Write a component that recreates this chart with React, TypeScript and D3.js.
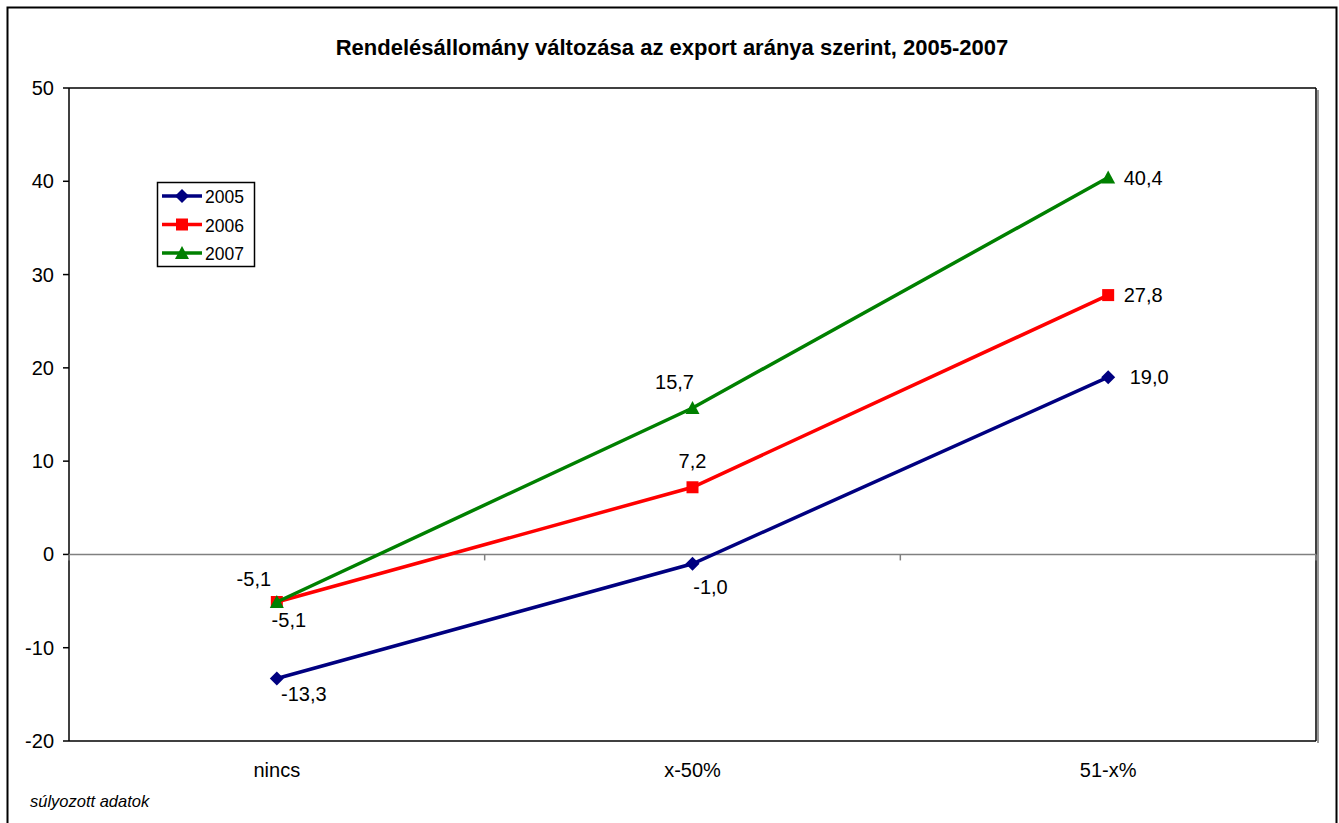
import React from "react";
import * as d3 from "d3";

const categories = ["nincs", "x-50%", "51-x%"];
const s2005 = [-13.3, -1.0, 19.0];
const s2006 = [-5.1, 7.2, 27.8];
const s2007 = [-5.1, 15.7, 40.4];
const yTicks = [-20, -10, 0, 10, 20, 30, 40, 50];
const seriesNames = ["2005", "2006", "2007"];

const W = 1339, H = 823;
const M = { left: 69, right: 1316, top: 88, bottom: 741 };

const colors = ["#000080", "#FF0000", "#008000"];
// label offsets (dx, dy, anchor) per series/point
const labelOffsets: [number, number, string][][] = [
  [[27, 16, "middle"], [18, 23, "middle"], [41, 0, "middle"]],
  [[12, 18, "middle"], [0, -26, "middle"], [35, 0, "middle"]],
  [[-23, -23, "middle"], [-18, -26, "middle"], [35, 0, "middle"]],
];

function fmt(v: number) {
  return v.toFixed(1).replace(".", ",");
}

function Marker({ kind, x, y, color }: { kind: number; x: number; y: number; color: string }) {
  if (kind === 0) {
    const r = 7;
    return <path d={`M${x},${y - r}L${x + r},${y}L${x},${y + r}L${x - r},${y}Z`} fill={color} />;
  }
  if (kind === 1) {
    return <rect x={x - 6} y={y - 6} width={12} height={12} fill={color} />;
  }
  return <path d={`M${x},${y - 7}L${x + 7},${y + 6}L${x - 7},${y + 6}Z`} fill={color} />;
}

export default function App() {
  const x = d3.scaleBand<string>().domain(categories).range([M.left, M.right]);
  const y = d3.scaleLinear().domain([-20, 50]).range([M.bottom, M.top]);
  const all = [s2005, s2006, s2007];
  const line = d3
    .line<number>()
    .x((_, i) => (x(categories[i]) as number) + x.bandwidth() / 2)
    .y((d) => y(d));
  const font = "Arial, 'Liberation Sans', sans-serif";
  const boundaries = [0, 1, 2, 3].map((i) => M.left + i * x.bandwidth());

  return (
    <svg width={W} height={H} style={{ position: "absolute", left: 0, top: 0, display: "block" }} fontFamily={font}>
      <rect x={0} y={0} width={W} height={H} fill="#fff" />
      <rect x={7.5} y={7.5} width={1329} height={830} fill="none" stroke="#000" strokeWidth={2} />
      <text x={672} y={55} textAnchor="middle" fontSize={22} fontWeight="bold">
        Rendelésállomány változása az export aránya szerint, 2005-2007
      </text>
      {/* plot area shadow + border */}
      <line x1={M.right + 2} y1={M.top + 2} x2={M.right + 2} y2={M.bottom + 2} stroke="#999" strokeWidth={2} />
      <line x1={M.left} y1={M.top} x2={M.right} y2={M.top} stroke="#000" strokeWidth={1.5} />
      <line x1={M.right} y1={M.top} x2={M.right} y2={M.bottom} stroke="#000" strokeWidth={1.5} />
      <line x1={M.left} y1={M.bottom} x2={M.right} y2={M.bottom} stroke="#000" strokeWidth={1.5} />
      {/* y axis */}
      <line x1={M.left} y1={M.top} x2={M.left} y2={M.bottom} stroke="#000" strokeWidth={1.5} />
      {yTicks.map((t) => (
        <g key={t}>
          <line x1={M.left - 6} x2={M.left} y1={y(t)} y2={y(t)} stroke="#000" strokeWidth={1.5} />
          <text x={54} y={y(t)} textAnchor="end" dominantBaseline="central" fontSize={20}>
            {t}
          </text>
        </g>
      ))}
      {/* category axis at zero */}
      <line x1={M.left} x2={M.right} y1={y(0)} y2={y(0)} stroke="#808080" strokeWidth={1.5} />
      {boundaries.map((b, i) => (
        <line key={i} x1={b} x2={b} y1={y(0)} y2={y(0) + 6} stroke="#808080" strokeWidth={1.5} />
      ))}
      {categories.map((c) => (
        <text key={c} x={(x(c) as number) + x.bandwidth() / 2} y={777} textAnchor="middle" fontSize={20}>
          {c}
        </text>
      ))}
      {/* series */}
      {all.map((s, si) => (
        <g key={si}>
          <path d={line(s) || ""} fill="none" stroke={colors[si]} strokeWidth={3.5} />
          {s.map((v, i) => (
            <Marker key={i} kind={si} x={(x(categories[i]) as number) + x.bandwidth() / 2} y={y(v)} color={colors[si]} />
          ))}
        </g>
      ))}
      {all.map((s, si) =>
        s.map((v, i) => {
          const [dx, dy, anchor] = labelOffsets[si][i];
          return (
            <text
              key={`${si}-${i}`}
              x={(x(categories[i]) as number) + x.bandwidth() / 2 + dx}
              y={y(v) + dy}
              textAnchor={anchor as any}
              dominantBaseline="central"
              fontSize={20}
            >
              {fmt(v)}
            </text>
          );
        })
      )}
      {/* legend */}
      <rect x={157.5} y={182.5} width={97} height={84} fill="#fff" stroke="#000" strokeWidth={1.5} />
      {seriesNames.map((n, i) => {
        const ly = 196 + i * 28.5;
        return (
          <g key={n}>
            <line x1={162} x2={202} y1={ly} y2={ly} stroke={colors[i]} strokeWidth={3.5} />
            <Marker kind={i} x={182} y={ly} color={colors[i]} />
            <text x={205} y={ly + 1} dominantBaseline="central" fontSize={17.5}>
              {n}
            </text>
          </g>
        );
      })}
      <text x={30} y={807} fontSize={16.5} fontStyle="italic">
        súlyozott adatok
      </text>
    </svg>
  );
}
